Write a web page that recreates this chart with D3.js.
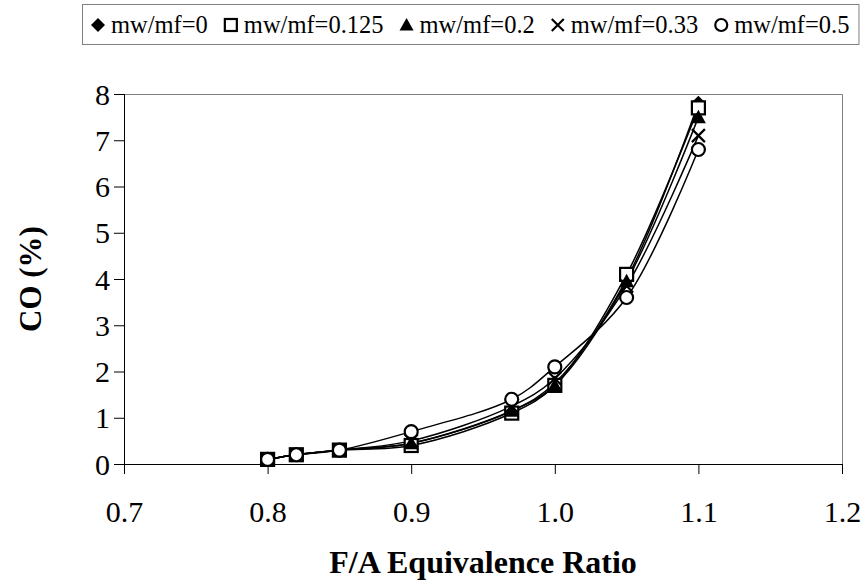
<!DOCTYPE html>
<html>
<head>
<meta charset="utf-8">
<script src="https://cdn.jsdelivr.net/npm/d3@7"></script>
<style>
  html, body { margin: 0; padding: 0; background: #fff; }
  svg { display: block; }
  svg text { font-family: "Liberation Serif", "Times New Roman", serif; }
</style>
</head>
<body>
<svg id="chart" width="867" height="584"></svg>
<script>
// ---- data ----
const equivalenceRatio = [0.8, 0.82, 0.85, 0.9, 0.97, 1.0, 1.05, 1.1];
const seriesNames = ["mw/mf=0", "mw/mf=0.125", "mw/mf=0.2", "mw/mf=0.33", "mw/mf=0.5"];
const coMw0    = [0.1, 0.2, 0.3, 0.45, 1.15, 1.75, 4.0, 7.8];
const coMw0125 = [0.1, 0.2, 0.3, 0.4, 1.1, 1.7, 4.1, 7.7];
const coMw02   = [0.1, 0.2, 0.3, 0.45, 1.15, 1.7, 3.95, 7.5];
const coMw033  = [0.1, 0.2, 0.3, 0.5, 1.25, 1.85, 3.85, 7.1];
const coMw05   = [0.1, 0.2, 0.3, 0.7, 1.4, 2.1, 3.6, 6.8];
const xTicks = [0.7, 0.8, 0.9, 1.0, 1.1, 1.2];
const yTicks = [0, 1, 2, 3, 4, 5, 6, 7, 8];
const markerTypes = ["diamond", "square", "triangle", "cross", "circle"];
const xTitle = "F/A Equivalence Ratio";
const yTitle = "CO (%)";

const seriesValues = [coMw0, coMw0125, coMw02, coMw033, coMw05];
const series = seriesNames.map((name, i) => ({
  name, marker: markerTypes[i],
  points: equivalenceRatio.map((x, j) => ({ x, y: seriesValues[i][j] }))
}));

// ---- layout ----
const plot = { left: 124, right: 842, top: 94, bottom: 464 };
const svg = d3.select("#chart");

const x = d3.scaleLinear().domain([0.7, 1.2]).range([plot.left, plot.right]);
const y = d3.scaleLinear().domain([0, 8]).range([plot.bottom, plot.top]);

// plot area border (top/right grey)
svg.append("path")
  .attr("d", `M${plot.left},${plot.top + 0.5}H${plot.right + 0.5}V${plot.bottom}`)
  .attr("fill", "none").attr("stroke", "#808080").attr("stroke-width", 1);

// axes
const xAxis = d3.axisBottom(x).tickValues(xTicks).tickSize(10).tickPadding(0)
  .tickFormat(d3.format(".1f"));
const gx = svg.append("g").attr("transform", `translate(0,${plot.bottom})`).call(xAxis);
gx.attr("font-family", null);
gx.select(".domain").attr("stroke", "#000").attr("d", `M${plot.left},0.5H${plot.right}`);
gx.selectAll(".tick line").attr("stroke", "#000");
gx.selectAll(".tick text").attr("font-size", 30)
  .attr("fill", "#000").attr("y", 58).attr("dy", 0);

const yAxis = d3.axisLeft(y).tickValues(yTicks).tickSize(10).tickPadding(4)
  .tickFormat(d3.format("d"));
const gy = svg.append("g").attr("transform", `translate(${plot.left},0)`).call(yAxis);
gy.attr("font-family", null);
gy.select(".domain").attr("stroke", "#000").attr("d", `M0.5,${plot.top}V${plot.bottom}`);
gy.selectAll(".tick line").attr("stroke", "#000");
gy.selectAll(".tick text").attr("font-size", 30)
  .attr("fill", "#000").attr("dy", "0.34em");

// axis titles
svg.append("text").attr("x", (plot.left + plot.right) / 2).attr("y", 573)
  .attr("text-anchor", "middle").attr("font-weight", "bold")
  .attr("font-size", 32).text(xTitle);
svg.append("text")
  .attr("transform", `translate(41,${(plot.top + plot.bottom) / 2}) rotate(-90)`)
  .attr("text-anchor", "middle").attr("font-weight", "bold")
  .attr("font-size", 31).text(yTitle);

// markers
function drawMarker(g, type, cx, cy, r) {
  if (type === "diamond") {
    g.append("path").attr("d", `M${cx},${cy - r}L${cx + r},${cy}L${cx},${cy + r}L${cx - r},${cy}Z`)
      .attr("fill", "#000");
  } else if (type === "square") {
    const s = r - 1;
    g.append("rect").attr("x", cx - s).attr("y", cy - s).attr("width", 2 * s).attr("height", 2 * s)
      .attr("fill", "#fff").attr("stroke", "#000").attr("stroke-width", 2.2);
  } else if (type === "triangle") {
    g.append("path").attr("d", `M${cx},${cy - r}L${cx + r},${cy + r * 0.8}L${cx - r},${cy + r * 0.8}Z`)
      .attr("fill", "#000");
  } else if (type === "cross") {
    const s = r - 1;
    g.append("path").attr("d", `M${cx - s},${cy - s}L${cx + s},${cy + s}M${cx + s},${cy - s}L${cx - s},${cy + s}`)
      .attr("stroke", "#000").attr("stroke-width", 2.2).attr("fill", "none");
  } else if (type === "circle") {
    g.append("circle").attr("cx", cx).attr("cy", cy).attr("r", r - 1)
      .attr("fill", "#fff").attr("stroke", "#000").attr("stroke-width", 2.2);
  }
}

// lines
const line = d3.line().x(d => x(d.x)).y(d => y(d.y)).curve(d3.curveCatmullRom.alpha(0.5));
const gLines = svg.append("g");
series.forEach(s => {
  gLines.append("path").attr("d", line(s.points)).attr("fill", "none")
    .attr("stroke", "#000").attr("stroke-width", 1.5);
});
const gMarkers = svg.append("g");
series.forEach(s => {
  s.points.forEach(p => drawMarker(gMarkers, s.marker, x(p.x), y(p.y), 7.5));
});

// legend
const legend = svg.append("g");
const legendBox = legend.append("rect").attr("x", 82.5).attr("y", 4.5).attr("height", 40)
  .attr("fill", "#fff").attr("stroke", "#808080").attr("stroke-width", 1);
let lx = 91;
const baseline = 33;
series.forEach((s, i) => {
  drawMarker(legend, s.marker, lx + 7, baseline - 8, 7);
  const t = legend.append("text").attr("x", lx + 20).attr("y", baseline)
    .attr("font-size", 24.5).text(s.name);
  lx = lx + 20 + t.node().getComputedTextLength() + 16;
});
legendBox.attr("width", lx - 16 + 9 - 82);
</script>
</body>
</html>
